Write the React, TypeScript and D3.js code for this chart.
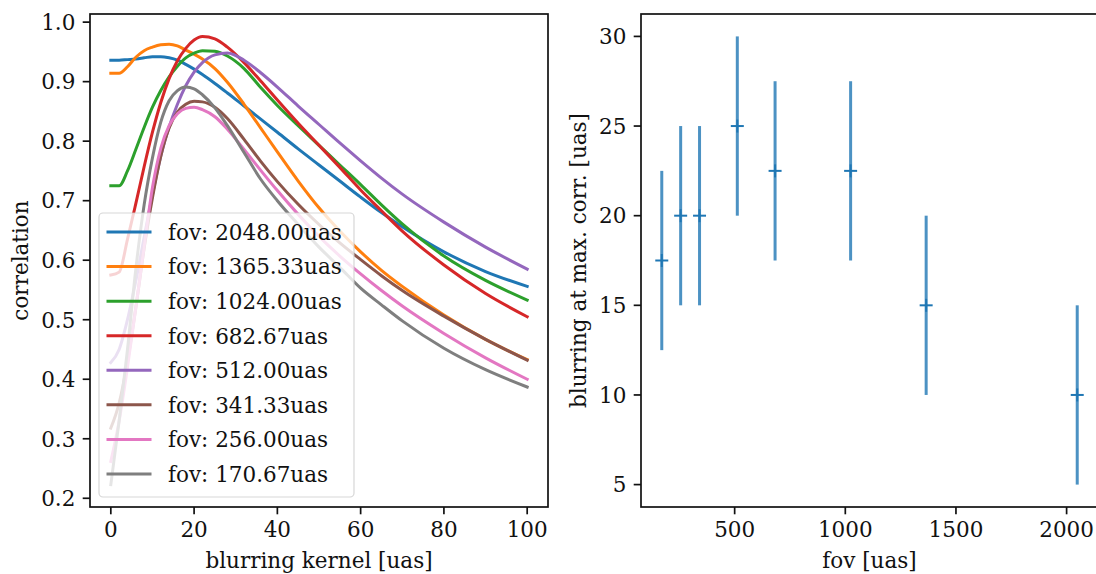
import React from 'react';
import * as d3 from 'd3';

// ---------- data ----------
const kernel = [0, 2, 4, 6, 8, 10, 12, 14, 16, 18, 20, 22, 25, 28, 32, 36, 40, 45, 50, 55, 60, 65, 70, 80, 90, 100];

const corr2048 = [0.936, 0.936, 0.937, 0.938, 0.940, 0.942, 0.942, 0.940, 0.936, 0.929, 0.921, 0.912, 0.897, 0.881, 0.859, 0.837, 0.815, 0.787, 0.760, 0.733, 0.706, 0.680, 0.656, 0.614, 0.581, 0.556];
const corr1365 = [0.914, 0.914, 0.925, 0.941, 0.952, 0.958, 0.962, 0.963, 0.960, 0.953, 0.946, 0.938, 0.922, 0.899, 0.862, 0.822, 0.782, 0.733, 0.688, 0.649, 0.614, 0.583, 0.556, 0.508, 0.467, 0.433];
const corr1024 = [0.725, 0.725, 0.750, 0.786, 0.823, 0.857, 0.885, 0.908, 0.926, 0.940, 0.948, 0.952, 0.951, 0.943, 0.922, 0.890, 0.860, 0.826, 0.793, 0.760, 0.727, 0.693, 0.661, 0.607, 0.566, 0.533];
const corr682 = [0.575, 0.580, 0.635, 0.695, 0.757, 0.815, 0.865, 0.905, 0.935, 0.956, 0.970, 0.976, 0.972, 0.958, 0.932, 0.901, 0.869, 0.830, 0.793, 0.756, 0.718, 0.683, 0.649, 0.592, 0.544, 0.505];
const corr512 = [0.428, 0.450, 0.500, 0.565, 0.638, 0.710, 0.775, 0.824, 0.862, 0.893, 0.916, 0.932, 0.945, 0.948, 0.936, 0.915, 0.891, 0.859, 0.828, 0.797, 0.767, 0.738, 0.711, 0.664, 0.622, 0.585];
const corr341 = [0.318, 0.360, 0.430, 0.520, 0.620, 0.705, 0.775, 0.822, 0.849, 0.862, 0.867, 0.866, 0.857, 0.838, 0.803, 0.766, 0.732, 0.694, 0.660, 0.629, 0.601, 0.574, 0.549, 0.506, 0.467, 0.432];
const corr256 = [0.262, 0.330, 0.420, 0.520, 0.622, 0.722, 0.788, 0.826, 0.846, 0.855, 0.857, 0.853, 0.841, 0.820, 0.786, 0.751, 0.717, 0.677, 0.640, 0.607, 0.577, 0.549, 0.523, 0.477, 0.436, 0.400];
const corr170 = [0.223, 0.330, 0.450, 0.585, 0.693, 0.772, 0.832, 0.868, 0.885, 0.891, 0.888, 0.878, 0.856, 0.826, 0.781, 0.736, 0.700, 0.660, 0.622, 0.588, 0.553, 0.525, 0.498, 0.452, 0.416, 0.387];

const seriesLabels = [
  'fov: 2048.00uas', 'fov: 1365.33uas', 'fov: 1024.00uas', 'fov: 682.67uas',
  'fov: 512.00uas', 'fov: 341.33uas', 'fov: 256.00uas', 'fov: 170.67uas',
];
const seriesValues = [corr2048, corr1365, corr1024, corr682, corr512, corr341, corr256, corr170];
const seriesColors = ['#1f77b4', '#ff7f0e', '#2ca02c', '#d62728', '#9467bd', '#8c564b', '#e377c2', '#7f7f7f'];

const fovValues = [170.67, 256, 341.33, 512, 682.67, 1024, 1365.33, 2048];
const blurAtMax = [17.5, 20, 20, 25, 22.5, 22.5, 15, 10];
const blurErr = [5, 5, 5, 5, 5, 5, 5, 5];

const leftXTicks = [0, 20, 40, 60, 80, 100];
const leftYTicks = [0.2, 0.3, 0.4, 0.5, 0.6, 0.7, 0.8, 0.9, 1.0];
const rightXTicks = [500, 1000, 1500, 2000];
const rightYTicks = [5, 10, 15, 20, 25, 30];

// ---------- layout ----------
const W = 1096;
const H = 574;
const FS = 21.5;
const FONT = '"DejaVu Serif", serif';
const TICK = 7.3;
const PAD = 7.3;
const SPINE = 1.7;
const axTop = 14;
const axBottom = 507;
const leftAx = { x0: 90, x1: 548 };
const rightAx = { x0: 641, x1: 1098 };

function pad(ext: [number, number], f = 0.05): [number, number] {
  const d = ext[1] - ext[0];
  return [ext[0] - d * f, ext[1] + d * f];
}

export default function App() {
  const xL = d3.scaleLinear().domain(pad(d3.extent(kernel) as [number, number])).range([leftAx.x0, leftAx.x1]);
  const allCorr = seriesValues.flat();
  const yL = d3.scaleLinear().domain(pad(d3.extent(allCorr) as [number, number])).range([axBottom, axTop]);
  const line = d3.line<number>()
    .x((_, i) => xL(kernel[i]))
    .y((v) => yL(v))
    .curve(d3.curveMonotoneX);

  const xR = d3.scaleLinear().domain(pad(d3.extent(fovValues) as [number, number])).range([rightAx.x0, rightAx.x1]);
  const lows = blurAtMax.map((v, i) => v - blurErr[i]);
  const highs = blurAtMax.map((v, i) => v + blurErr[i]);
  const yR = d3.scaleLinear().domain(pad([d3.min(lows)!, d3.max(highs)!])).range([axBottom, axTop]);

  const legX = leftAx.x0 + 9;
  const legY = 213;
  const legW = 255;
  const legH = axBottom - 10 - legY;
  const rowFirst = 232;
  const rowPitch = 34.57;

  const textStyle: React.CSSProperties = { fontFamily: FONT, fontSize: FS, fill: '#111' };

  return (
    <div style={{ position: 'absolute', left: 0, top: 0, width: W, height: H, overflow: 'hidden' }}>
      <svg width={W} height={H} style={{ display: 'block', background: '#fff' }}>
        <rect x={0} y={0} width={W} height={H} fill="#fff" />
        {/* ---------- LEFT AXES ---------- */}
        <g>
          {seriesValues.map((vals, si) => (
            <path key={si} d={line(vals) || ''} fill="none" stroke={seriesColors[si]} strokeWidth={3}
              strokeLinejoin="round" strokeLinecap="square" />
          ))}
          <rect x={leftAx.x0} y={axTop} width={leftAx.x1 - leftAx.x0} height={axBottom - axTop}
            fill="none" stroke="#111" strokeWidth={SPINE} />
          {leftXTicks.map((t) => (
            <g key={t}>
              <line x1={xL(t)} x2={xL(t)} y1={axBottom} y2={axBottom + TICK} stroke="#111" strokeWidth={SPINE} />
              <text x={xL(t)} y={axBottom + TICK + PAD + 15.8} textAnchor="middle" style={textStyle}>{t}</text>
            </g>
          ))}
          {leftYTicks.map((t) => (
            <g key={t}>
              <line x1={leftAx.x0 - TICK} x2={leftAx.x0} y1={yL(t)} y2={yL(t)} stroke="#111" strokeWidth={SPINE} />
              <text x={leftAx.x0 - TICK - PAD} y={yL(t) + 7.8} textAnchor="end" style={textStyle}>{t.toFixed(1)}</text>
            </g>
          ))}
          <text x={(leftAx.x0 + leftAx.x1) / 2} y={568} textAnchor="middle" style={textStyle}>blurring kernel [uas]</text>
          <text transform={`translate(28,${(axTop + axBottom) / 2}) rotate(-90)`} textAnchor="middle" style={textStyle}>correlation</text>

          <rect x={legX} y={legY} width={legW} height={legH} rx={4} ry={4}
            fill="#fff" fillOpacity={0.8} stroke="#cccccc" strokeOpacity={0.8} strokeWidth={1.2} />
          {seriesLabels.map((lab, i) => {
            const cy = rowFirst + i * rowPitch;
            return (
              <g key={lab}>
                <line x1={legX + 9} x2={legX + 51} y1={cy} y2={cy} stroke={seriesColors[i]} strokeWidth={3} strokeLinecap="square" />
                <text x={legX + 69} y={cy + 7.8} style={textStyle}>{lab}</text>
              </g>
            );
          })}
        </g>

        {/* ---------- RIGHT AXES ---------- */}
        <g>
          {fovValues.map((f, i) => (
            <g key={f}>
              <line x1={xR(f)} x2={xR(f)} y1={yR(lows[i])} y2={yR(highs[i])} stroke="#1f77b4" strokeOpacity={0.8} strokeWidth={3} />
              <line x1={xR(f) - 6.5} x2={xR(f) + 6.5} y1={yR(blurAtMax[i])} y2={yR(blurAtMax[i])} stroke="#1f77b4" strokeWidth={2} />
              <line x1={xR(f)} x2={xR(f)} y1={yR(blurAtMax[i]) - 6.5} y2={yR(blurAtMax[i]) + 6.5} stroke="#1f77b4" strokeWidth={2} />
            </g>
          ))}
          <rect x={rightAx.x0} y={axTop} width={rightAx.x1 - rightAx.x0} height={axBottom - axTop}
            fill="none" stroke="#111" strokeWidth={SPINE} />
          {rightXTicks.map((t) => (
            <g key={t}>
              <line x1={xR(t)} x2={xR(t)} y1={axBottom} y2={axBottom + TICK} stroke="#111" strokeWidth={SPINE} />
              <text x={xR(t)} y={axBottom + TICK + PAD + 15.8} textAnchor="middle" style={textStyle}>{t}</text>
            </g>
          ))}
          {rightYTicks.map((t) => (
            <g key={t}>
              <line x1={rightAx.x0 - TICK} x2={rightAx.x0} y1={yR(t)} y2={yR(t)} stroke="#111" strokeWidth={SPINE} />
              <text x={rightAx.x0 - TICK - PAD} y={yR(t) + 7.8} textAnchor="end" style={textStyle}>{t}</text>
            </g>
          ))}
          <text x={(rightAx.x0 + rightAx.x1) / 2} y={568} textAnchor="middle" style={textStyle}>fov [uas]</text>
          <text transform={`translate(586,${(axTop + axBottom) / 2}) rotate(-90)`} textAnchor="middle" style={textStyle}>blurring at max. corr. [uas]</text>
        </g>
      </svg>
    </div>
  );
}
